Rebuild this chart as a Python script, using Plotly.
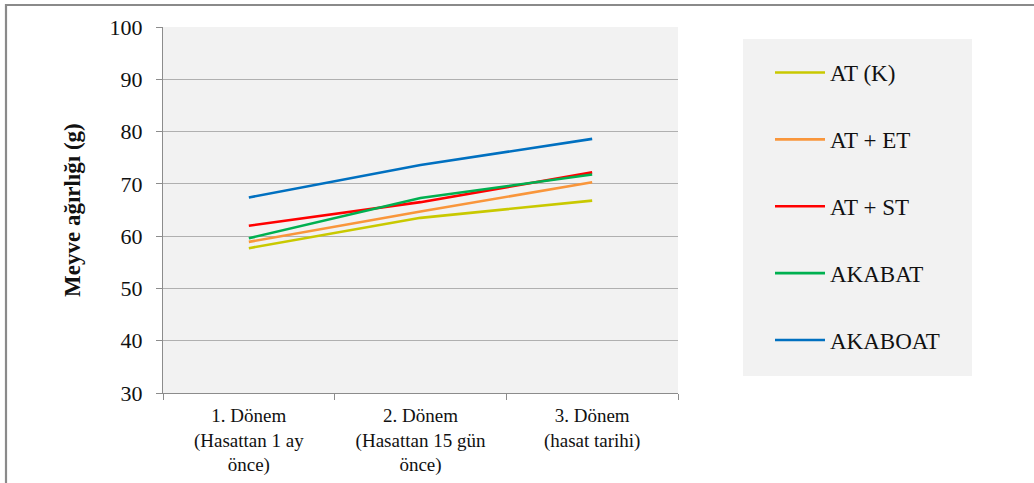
import plotly.graph_objects as go

# Harvest periods and fruit weight (g) per treatment
periods = [
    "1. Dönem<br>(Hasattan 1 ay<br>önce)",
    "2. Dönem<br>(Hasattan 15 gün<br>önce)",
    "3. Dönem<br>(hasat tarihi)",
]
at_k = [57.7, 63.5, 66.8]
at_et = [58.9, 64.7, 70.3]
at_st = [62.0, 66.5, 72.2]
akabat = [59.6, 67.3, 71.8]
akaboat = [67.4, 73.6, 78.6]

series_names = ["AT (K)", "AT + ET", "AT + ST", "AKABAT", "AKABOAT"]
series_values = [at_k, at_et, at_st, akabat, akaboat]
series_colors = ["#c9c900", "#f9963b", "#ff0000", "#00b050", "#0070c0"]

W, H = 1034, 483
L, R, T, B = 163, 678, 27, 393  # plot area in pixels
pw, ph = R - L, B - T


def px_x(x):
    return (x - L) / pw


def px_y(y):
    return (B - y) / ph


FONT = "Liberation Serif"

fig = go.Figure()
for name, vals, col in zip(series_names, series_values, series_colors):
    fig.add_trace(go.Scatter(
        x=periods, y=vals, name=name, mode="lines",
        line=dict(color=col, width=2.6),
        legendgroup=name,
    ))

fig.update_layout(
    width=W, height=H,
    margin=dict(l=L, r=W - R, t=T, b=H - B, pad=0),
    paper_bgcolor="white",
    plot_bgcolor="#f2f2f2",
    font=dict(family=FONT, size=21, color="#111111"),
    showlegend=True,
    legend=dict(
        x=px_x(770), y=px_y(51), xanchor="left", yanchor="top",
        bgcolor="rgba(0,0,0,0)",
        font=dict(family=FONT, size=23, color="#111111"),
        tracegroupgap=34,
        itemwidth=50,
        traceorder="grouped",
    ),
    xaxis=dict(
        range=[-0.5, 2.5],
        automargin=False,
        showgrid=False,
        showline=True, linecolor="#8c8c8c", linewidth=1.3,
        ticks="outside", ticklen=6, tickcolor="#8c8c8c",
        tickson="boundaries",
        ticklabelstandoff=5,
        tickfont=dict(family=FONT, size=19),
        fixedrange=True,
    ),
    yaxis=dict(
        range=[30, 100], dtick=10,
        automargin=False,
        showgrid=True, gridcolor="#b0b0b0", gridwidth=1.3,
        showline=True, linecolor="#8c8c8c", linewidth=1.3,
        ticks="outside", ticklen=6, tickcolor="#8c8c8c",
        ticklabelstandoff=9,
        tickfont=dict(family=FONT, size=22),
        zeroline=False,
    ),
    shapes=[
        # legend panel
        dict(type="rect", xref="paper", yref="paper",
             x0=px_x(743), x1=px_x(972), y0=px_y(376), y1=px_y(39),
             fillcolor="#f2f2f2", line=dict(width=0), layer="below"),
        # outer frame
        dict(type="rect", xref="paper", yref="paper",
             x0=px_x(6), x1=px_x(1040), y0=px_y(495), y1=px_y(5),
             fillcolor="rgba(0,0,0,0)", line=dict(color="#8a8a8a", width=2.2)),
    ],
    annotations=[
        dict(text="<b>Meyve ağırlığı (g)</b>", textangle=-90,
             xref="paper", yref="paper", x=px_x(72), y=px_y(210),
             xanchor="center", yanchor="middle", showarrow=False,
             font=dict(family=FONT, size=23, color="#111111")),
    ],
)

fig.write_html("out.html")
